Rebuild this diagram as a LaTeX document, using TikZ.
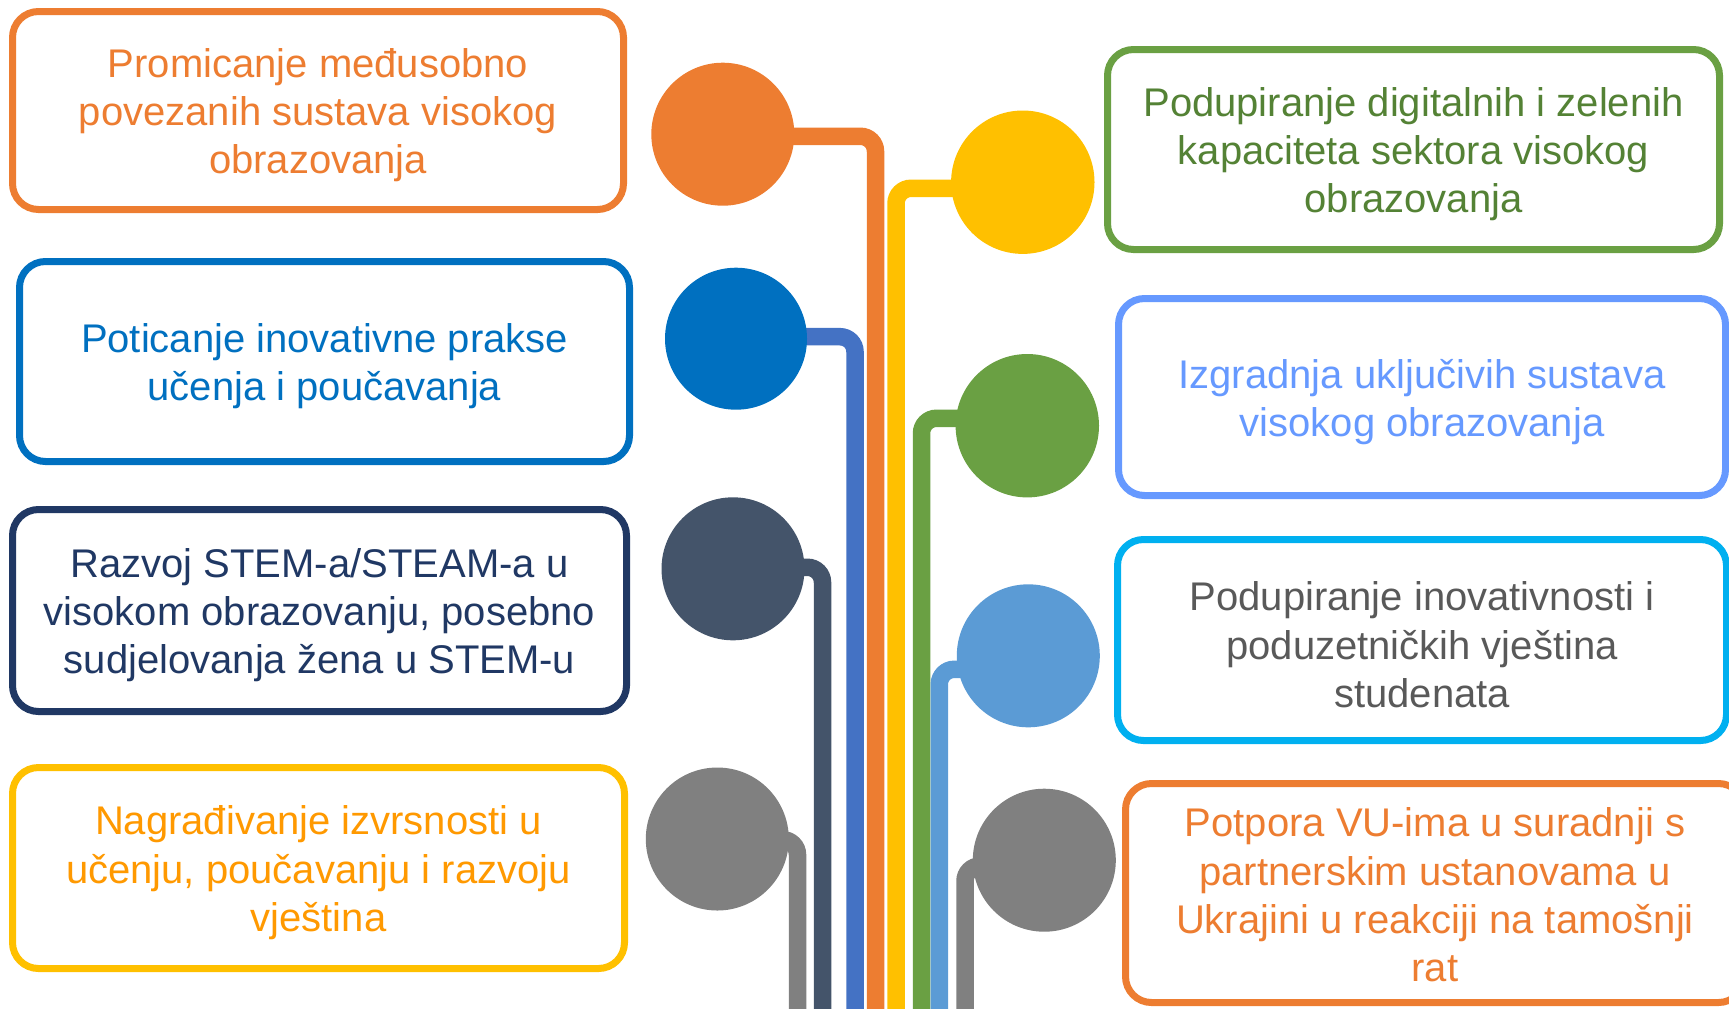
\documentclass[tikz,border=0pt]{standalone}
\usepackage{fontspec}
\setmainfont{Liberation Sans}
\definecolor{corange}{HTML}{ED7D31}
\definecolor{cblue}{HTML}{0070C0}
\definecolor{cblueline}{HTML}{4472C4}
\definecolor{cnavy}{HTML}{203864}
\definecolor{cslate}{HTML}{44546A}
\definecolor{cgray}{HTML}{808080}
\definecolor{cgold}{HTML}{FFC000}
\definecolor{cgoldtext}{HTML}{FF9900}
\definecolor{cgreen}{HTML}{6AA043}
\definecolor{cgreentext}{HTML}{548235}
\definecolor{cltblue}{HTML}{5B9BD5}
\definecolor{cperi}{HTML}{6699FF}
\definecolor{ccyan}{HTML}{00B0F0}
\definecolor{cdgray}{HTML}{595959}
\begin{document}
\begin{tikzpicture}[x=0.5pt,y=-0.5pt,
  box/.style={draw, line width=3.5pt, rounded corners=13pt, fill=white, inner sep=0pt},
  txt/.style={align=center, inner sep=0pt, yshift=-2.4pt, font=\fontsize{20}{24.15}\selectfont},
  dot/.style={circle, inner sep=0pt, minimum size=71.5pt, draw=none},
  conn/.style={line width=8.75pt, rounded corners=7.5pt}]
\useasboundingbox (0,0) rectangle (1729,1008);
\clip (0,0) rectangle (1729,1008);

% circles (positions)
\path (722.8,134.2) node[dot] (c1) {};
\path (736,338.7) node[dot] (c2) {};
\path (733,568.8) node[dot] (c3) {};
\path (717.3,839) node[dot] (c4) {};
\path (1022.8,182.2) node[dot] (d1) {};
\path (1027.3,425.7) node[dot] (d2) {};
\path (1028.3,655.8) node[dot] (d3) {};
\path (1044.3,860.2) node[dot] (d4) {};

% connector corners
\coordinate (k1) at (875.5,136.3);
\coordinate (k2) at (896,188.3);
\coordinate (k3) at (855,336.7);
\coordinate (k4) at (921.5,418.3);
\coordinate (k5) at (822.5,567.3);
\coordinate (k6) at (939.3,669.3);
\coordinate (k7) at (797.5,839.7);
\coordinate (k8) at (965,866);
\coordinate (bot) at (0,1020);

\draw[conn, draw=corange] (c1.center |- k1) -- (k1) -- (k1 |- bot);
\draw[conn, draw=cgold] (d1.center |- k2) -- (k2) -- (k2 |- bot);
\draw[conn, draw=cblueline] (c2.center |- k3) -- (k3) -- (k3 |- bot);
\draw[conn, draw=cgreen] (d2.center |- k4) -- (k4) -- (k4 |- bot);
\draw[conn, draw=cslate] (c3.center |- k5) -- (k5) -- (k5 |- bot);
\draw[conn, draw=cltblue] (d3.center |- k6) -- (k6) -- (k6 |- bot);
\draw[conn, draw=cgray] (c4.center |- k7) -- (k7) -- (k7 |- bot);
\draw[conn, draw=cgray] (d4.center |- k8) -- (k8) -- (k8 |- bot);

% circles drawn on top
\fill[corange] (c1) circle[radius=35.75pt];
\fill[cblue] (c2) circle[radius=35.5pt];
\fill[cslate] (c3) circle[radius=35.75pt];
\fill[cgray] (c4) circle[radius=35.75pt];
\fill[cgold] (d1) circle[radius=35.85pt];
\fill[cgreen] (d2) circle[radius=35.85pt];
\fill[cltblue] (d3) circle[radius=35.75pt];
\fill[cgray] (d4) circle[radius=35.75pt];

% boxes
\node[box, draw=corange, minimum width=305.5pt, minimum height=99pt] (l1) at (318,110.5) {};
\node[box, draw=cblue, minimum width=305pt, minimum height=100pt] (l2) at (324.5,361.5) {};
\node[box, draw=cnavy, minimum width=307pt, minimum height=101pt] (l3) at (319.5,610.5) {};
\node[box, draw=cgold, minimum width=306pt, minimum height=100.5pt] (l4) at (318.5,868) {};
\node[box, draw=cgreen, minimum width=306pt, minimum height=100pt] (r1) at (1413.5,149.5) {};
\node[box, draw=cperi, minimum width=303.5pt, minimum height=98.5pt] (r2) at (1422,397) {};
\node[box, draw=ccyan, minimum width=304.5pt, minimum height=100.5pt] (r3) at (1422,640) {};
\node[box, draw=corange, minimum width=309.5pt, minimum height=109.5pt] (r4) at (1435,893) {};

% texts
\node[txt, text=corange] (l1t) at (l1.center)
  {Promicanje međusobno\\povezanih sustava visokog\\obrazovanja};
\node[txt, text=cblue] (l2t) at (l2.center)
  {Poticanje inovativne prakse\\učenja i poučavanja};
\node[txt, text=cnavy] (l3t) at (l3.center)
  {Razvoj STEM-a/STEAM-a u\\visokom obrazovanju, posebno\\sudjelovanja žena u STEM-u};
\node[txt, text=cgoldtext] (l4t) at (l4.center)
  {Nagrađivanje izvrsnosti u\\učenju, poučavanju i razvoju\\vještina};
\node[txt, text=cgreentext] (r1t) at (r1.center)
  {Podupiranje digitalnih i zelenih\\kapaciteta sektora visokog\\obrazovanja};
\node[txt, text=cperi] (r2t) at (r2.center)
  {Izgradnja uključivih sustava\\visokog obrazovanja};
\node[txt, text=cdgray] (r3t) at (r3.center)
  {Podupiranje inovativnosti i\\poduzetničkih vještina\\studenata};
\node[txt, text=corange, yshift=1.4pt] (r4t) at (r4.center)
  {Potpora VU-ima u suradnji s\\partnerskim ustanovama u\\Ukrajini u reakciji na tamošnji\\rat};
\end{tikzpicture}
\end{document}
